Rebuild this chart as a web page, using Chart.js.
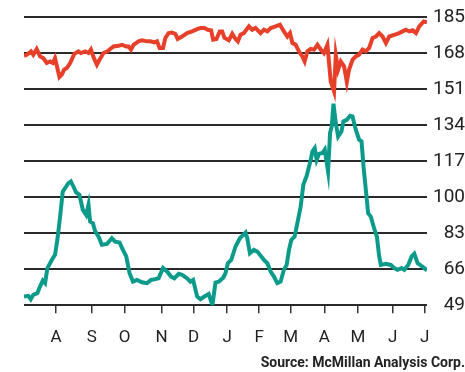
<!DOCTYPE html>
<html>
<head>
<meta charset="utf-8">
<script src="https://cdn.jsdelivr.net/npm/chart.js@4/dist/chart.umd.min.js"></script>
<style>
  html, body { margin: 0; padding: 0; background: #ffffff; }
  #wrap { position: relative; width: 465px; height: 372px; }
</style>
</head>
<body>
<div id="wrap"><canvas id="chart"></canvas></div>
<script>
// Axis positions are days counted from the start of the period (early July).
const monthTicks = [29, 61.5, 91, 124.5, 153.5, 184, 213, 241.5, 272, 302.5, 334, 363];
const monthLabels = ['A', 'S', 'O', 'N', 'D', 'J', 'F', 'M', 'A', 'M', 'J', 'J'];
const yTicks = [49, 66, 83, 100, 117, 134, 151, 168, 185];

// Upper series (red)
const redDays = [0, 2.5, 6.4, 8.4, 11.5, 14.5, 17.5, 20.6, 23.6, 26.1, 28.1, 30.2, 32.1, 34.2, 36.3, 38.8,
  41.8, 45.4, 49.3, 51.5, 55.4, 58.4, 60.6, 63.6, 66, 68.4, 72, 75.6, 78.1, 81.1, 85.6, 88.7, 92.6, 94.7,
  96.9, 99.2, 103.8, 106.9, 111.4, 114.4, 118, 120.5, 122.8, 125.9, 128, 131, 134.1, 137.1, 139.2, 143.2,
  147.7, 152.3, 156.8, 159.8, 163.4, 166.4, 169.5, 171.3, 174.3, 177.3, 179.5, 181.6, 185.5, 188.6, 191.6,
  193.7, 196.1, 199.1, 203.7, 206.7, 209.7, 214.3, 217.3, 220.4, 223.4, 227.9, 231.8, 235.4, 238.5, 240.9,
  243.1, 246.1, 249, 252.1, 254.2, 256.7, 259.7, 262.7, 265.8, 268.8, 271.7, 274.8, 276.3, 277.8, 280.8,
  282.4, 284.5, 286.9, 289.9, 292.4, 294.4, 297.5, 300.5, 303.5, 306.6, 309.6, 312.6, 315.7, 318.7, 321.7,
  324.8, 327.8, 330.8, 335.3, 339.8, 342.9, 345.9, 348.9, 352, 355, 358, 362, 365];
const redValues = [166.7, 167.2, 168.8, 167.2, 169.9, 166.4, 165.6, 163.3, 164.0, 163.3, 165.6, 160.9, 156.7,
  157.8, 160.1, 160.9, 163.3, 167.5, 168.8, 168.0, 168.8, 168.0, 169.6, 165.2, 162.5, 164.8, 168.0, 168.8,
  169.9, 171.1, 171.4, 171.9, 171.1, 171.1, 169.6, 171.9, 173.5, 174.0, 173.5, 173.5, 173.0, 173.5, 170.4,
  170.4, 175.1, 177.4, 177.7, 177.0, 174.6, 175.8, 177.4, 178.2, 179.3, 179.8, 179.8, 179.0, 178.7, 174.3,
  174.6, 178.2, 178.2, 175.1, 174.0, 177.1, 174.6, 173.5, 176.6, 177.4, 180.6, 179.0, 179.8, 177.4, 179.0,
  178.2, 179.8, 180.6, 181.4, 178.2, 175.8, 177.4, 172.7, 171.9, 168.8, 166.4, 164.0, 168.8, 169.9, 169.6,
  171.9, 169.6, 168.0, 171.9, 163.3, 154.6, 149.8, 167.0, 160.1, 164.0, 161.7, 154.3, 160.1, 164.8, 166.4,
  167.2, 169.6, 168.8, 170.4, 175.1, 175.8, 177.4, 175.8, 172.7, 175.8, 176.6, 177.4, 178.2, 179.0, 178.2,
  178.7, 177.4, 180.6, 182.9, 182.5];

// Lower series (teal)
const tealDays = [0, 3.9, 6.1, 8.4, 12.1, 14.5, 17, 19.1, 21.2, 23.6, 26.1, 28.1, 30.2, 32.7, 35.1, 37.2,
  40.2, 42.4, 44.8, 47.2, 50.2, 53.3, 56.3, 58.4, 59.9, 62.4, 64.5, 67.5, 70.5, 75.1, 79.6, 82.6, 86.5,
  89.6, 92.6, 95.6, 98.7, 102.3, 106.9, 111.4, 115, 118.9, 121.9, 125.9, 129.6, 133.2, 136.2, 140.1, 143.2,
  147.7, 150.7, 153.2, 156.8, 159.8, 163.4, 167.3, 169.5, 170.7, 173.4, 176.4, 180.4, 182.5, 184.6, 187.7,
  191.6, 195.5, 198.6, 200.7, 202.2, 204.6, 208.2, 211.3, 214.9, 217.3, 220.4, 223.4, 226.4, 229.4, 232.4,
  235.4, 237.9, 240, 242.1, 245.1, 247.6, 250.6, 253, 256, 259.7, 261.2, 263.3, 265.1, 267.2, 270.3, 272.4,
  275.4, 277.2, 278.7, 280.3, 282.4, 284.5, 287.5, 289.3, 292.4, 295.4, 297.5, 300.5, 303.5, 305.7, 307.5,
  309.6, 311.7, 314.1, 317.1, 319.6, 321.7, 323.2, 327.8, 332.3, 335.3, 338.4, 342, 344.4, 348, 351.1,
  353.5, 356.5, 360.2, 362.5, 365];
const tealValues = [53.1, 53.4, 51.8, 53.9, 54.7, 57.8, 60.6, 59.4, 66.5, 68.8, 71.2, 72.8, 79.8, 90.8,
  102.6, 104.2, 106.6, 107.4, 105.0, 102.2, 101.1, 94.0, 91.6, 96.4, 88.5, 87.7, 83.8, 81.4, 77.5, 77.9,
  80.6, 79.0, 78.6, 75.1, 72.0, 64.1, 60.1, 60.9, 59.8, 59.4, 60.9, 61.3, 61.7, 66.5, 64.9, 62.5, 61.7,
  63.8, 63.3, 61.7, 60.1, 60.9, 53.1, 51.8, 53.1, 54.3, 50.7, 49.1, 59.7, 60.1, 62.0, 64.1, 68.8, 70.4,
  76.7, 80.6, 82.2, 83.3, 80.6, 73.5, 75.1, 74.3, 72.0, 70.4, 68.8, 64.9, 62.5, 59.4, 60.1, 65.7, 68.0,
  75.1, 79.8, 81.4, 87.7, 95.6, 105.8, 110.0, 117.6, 121.5, 123.1, 117.6, 120.4, 120.8, 122.4, 112.1,
  130.2, 133.4, 144.1, 134.9, 128.6, 131.0, 135.7, 136.5, 138.4, 138.1, 131.8, 127.1, 126.3, 114.5, 103.4,
  92.4, 90.8, 85.3, 81.4, 72.0, 68.0, 68.5, 68.0, 66.5, 65.7, 66.5, 65.7, 68.0, 72.0, 73.3, 68.8, 67.5,
  66.5, 65.4];

const sourceText = 'Source: McMillan Analysis Corp.';

const toPoints = (xs, ys) => xs.map((x, i) => ({ x: x, y: ys[i] }));

const narrow = "'Liberation Sans Narrow', 'Roboto', 'Liberation Sans', sans-serif";

new Chart(document.getElementById('chart'), {
  type: 'line',
  data: {
    datasets: [
      {
        data: toPoints(redDays, redValues),
        borderColor: '#e7402a',
        borderWidth: 4,
        pointRadius: 0,
        tension: 0,
        fill: false
      },
      {
        data: toPoints(tealDays, tealValues),
        borderColor: '#0c9b8a',
        borderWidth: 4,
        pointRadius: 0,
        tension: 0,
        fill: false
      }
    ]
  },
  options: {
    responsive: true,
    maintainAspectRatio: false,
    animation: false,
    events: [],
    layout: { padding: { left: 24, top: 17, right: 0, bottom: 0 } },
    plugins: {
      legend: { display: false },
      tooltip: { enabled: false },
      title: {
        display: true,
        position: 'bottom',
        align: 'end',
        text: sourceText,
        color: '#222',
        font: { family: narrow, size: 14, weight: 'bold' },
        padding: { top: 4, bottom: 0 }
      }
    },
    scales: {
      x: {
        type: 'linear',
        min: 0,
        max: 365,
        afterBuildTicks: (scale) => {
          scale.ticks = monthTicks.map(v => ({ value: v }));
        },
        afterFit: (scale) => { scale.height = 46; },
        ticks: {
          autoSkip: false,
          maxRotation: 0,
          padding: 14,
          color: '#222',
          font: { family: narrow, size: 17 },
          callback: (value) => {
            const i = monthTicks.indexOf(value);
            return i >= 0 ? monthLabels[i] : '';
          }
        },
        grid: {
          drawOnChartArea: false,
          drawTicks: true,
          tickLength: 8,
          color: '#333',
          lineWidth: 1.5
        },
        border: { display: false }
      },
      y: {
        position: 'right',
        min: 49,
        max: 185,
        afterBuildTicks: (scale) => {
          scale.ticks = yTicks.map(v => ({ value: v }));
        },
        afterFit: (scale) => { scale.width = 38; },
        ticks: {
          crossAlign: 'far',
          color: '#222',
          font: { family: narrow, size: 19 }
        },
        grid: {
          drawTicks: false,
          color: '#2a2a2a',
          lineWidth: 2
        },
        border: { display: false }
      }
    }
  }
});
</script>
</body>
</html>
